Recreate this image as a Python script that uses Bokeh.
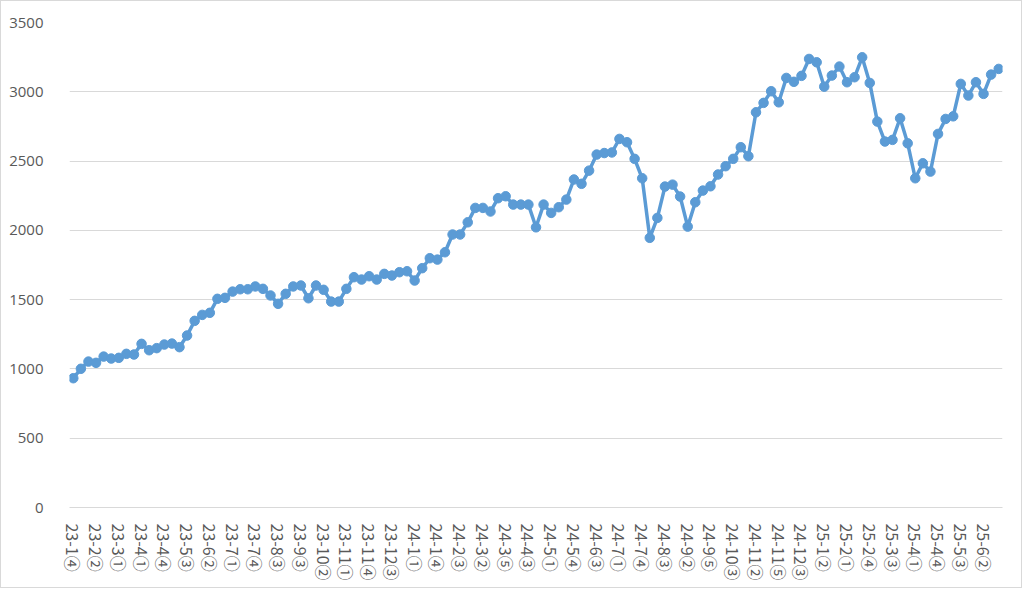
from bokeh.plotting import figure
from bokeh.models import FixedTicker, Range1d
from bokeh.embed import file_html
from bokeh.resources import INLINE

# ---- data ----
week_labels = [
    "23-1④", "23-1⑤", "23-2①", "23-2②", "23-2③", "23-2④", "23-3①", "23-3②", "23-3③",
    "23-4①", "23-4②", "23-4③", "23-4④", "23-5①", "23-5②", "23-5③", "23-5④", "23-6①",
    "23-6②", "23-6③", "23-6④", "23-7①", "23-7②", "23-7③", "23-7④", "23-8①", "23-8②",
    "23-8③", "23-9①", "23-9②", "23-9③", "23-9④", "23-10①", "23-10②", "23-10③", "23-10④",
    "23-11①", "23-11②", "23-11③", "23-11④", "23-12①", "23-12②", "23-12③", "23-12④", "23-12⑤",
    "24-1①", "24-1②", "24-1③", "24-1④", "24-2①", "24-2②", "24-2③", "24-2④", "24-3①",
    "24-3②", "24-3③", "24-3④", "24-3⑤", "24-4①", "24-4②", "24-4③", "24-4④", "24-4⑤",
    "24-5①", "24-5②", "24-5③", "24-5④", "24-6①", "24-6②", "24-6③", "24-6④", "24-6⑤",
    "24-7①", "24-7②", "24-7③", "24-7④", "24-8①", "24-8②", "24-8③", "24-8④", "24-9①",
    "24-9②", "24-9③", "24-9④", "24-9⑤", "24-10①", "24-10②", "24-10③", "24-10④", "24-11①",
    "24-11②", "24-11③", "24-11④", "24-11⑤", "24-12①", "24-12②", "24-12③", "24-12④", "25-1①",
    "25-1②", "25-1③", "25-1④", "25-2①", "25-2②", "25-2③", "25-2④", "25-3①", "25-3②",
    "25-3③", "25-3④", "25-3⑤", "25-4①", "25-4②", "25-4③", "25-4④", "25-5①", "25-5②",
    "25-5③", "25-5④", "25-6①", "25-6②", "25-6③", "25-6④",
]

values = [
    933, 1001, 1053, 1044, 1089, 1075, 1080, 1109, 1104, 1181, 1135, 1150,
    1176, 1183, 1157, 1241, 1347, 1390, 1405, 1506, 1513, 1558, 1575, 1575,
    1595, 1578, 1530, 1470, 1542, 1595, 1602, 1510, 1602, 1571, 1486, 1486,
    1578, 1662, 1645, 1669, 1645, 1686, 1674, 1698, 1705, 1638, 1727, 1799,
    1789, 1842, 1970, 1970, 2058, 2162, 2162, 2136, 2232, 2246, 2186, 2186,
    2186, 2022, 2186, 2126, 2167, 2222, 2367, 2336, 2431, 2547, 2558, 2562,
    2660, 2636, 2516, 2376, 1946, 2090, 2316, 2330, 2244, 2027, 2203, 2287,
    2318, 2403, 2463, 2516, 2600, 2535, 2852, 2920, 3004, 2924, 3100, 3072, 3115,
    3237, 3213, 3037, 3117, 3182, 3069, 3105, 3249, 3064, 2785, 2641, 2653,
    2809, 2628, 2376, 2484, 2424, 2696, 2804, 2823, 3057, 2973, 3069, 2985,
    3124, 3165,
]

y_ticks = [0, 500, 1000, 1500, 2000, 2500, 3000, 3500]
label_step = 3

# ---- figure ----
xs = list(range(len(values)))

p = figure(width=1022, height=588, output_backend="svg", toolbar_location=None,
           x_range=Range1d(-0.5, len(values) - 0.5), y_range=Range1d(0, 3500),
           min_border_left=68, min_border_right=21, min_border_top=21, min_border_bottom=82)
p.background_fill_color = "white"
p.border_fill_color = "white"
p.outline_line_color = None
p.styles = {"border": "1px solid #D9D9D9"}

p.line(xs, values, line_width=3.5, color="#5B9BD5")
p.scatter(xs, values, size=9.5, color="#5B9BD5")

# y axis
p.yaxis.ticker = FixedTicker(ticks=y_ticks)
p.yaxis.axis_line_color = None
p.yaxis.major_tick_line_color = None
p.yaxis.minor_tick_line_color = None
p.yaxis.major_label_standoff = 20
p.yaxis.major_label_text_font = "Open Sans"
p.yaxis.major_label_text_font_size = "15px"
p.yaxis.major_label_text_color = "#595959"

# x axis
tick_idx = xs[::label_step]
p.xaxis.ticker = FixedTicker(ticks=tick_idx)
p.xaxis.major_label_overrides = {i: week_labels[i] for i in tick_idx}
p.xaxis.major_label_orientation = "vertical"
p.xaxis.axis_line_color = "#D9D9D9"
p.xaxis.major_tick_line_color = None
p.xaxis.minor_tick_line_color = None
p.xaxis.major_label_standoff = 10
p.xaxis.major_label_text_font = "Noto Sans CJK JP"
p.xaxis.major_label_text_font_size = "16px"
p.xaxis.major_label_text_color = "#595959"

p.xgrid.grid_line_color = None
p.ygrid.grid_line_color = "#D9D9D9"
p.ygrid.grid_line_width = 1

open("out.html", "w").write(file_html(p, INLINE))
